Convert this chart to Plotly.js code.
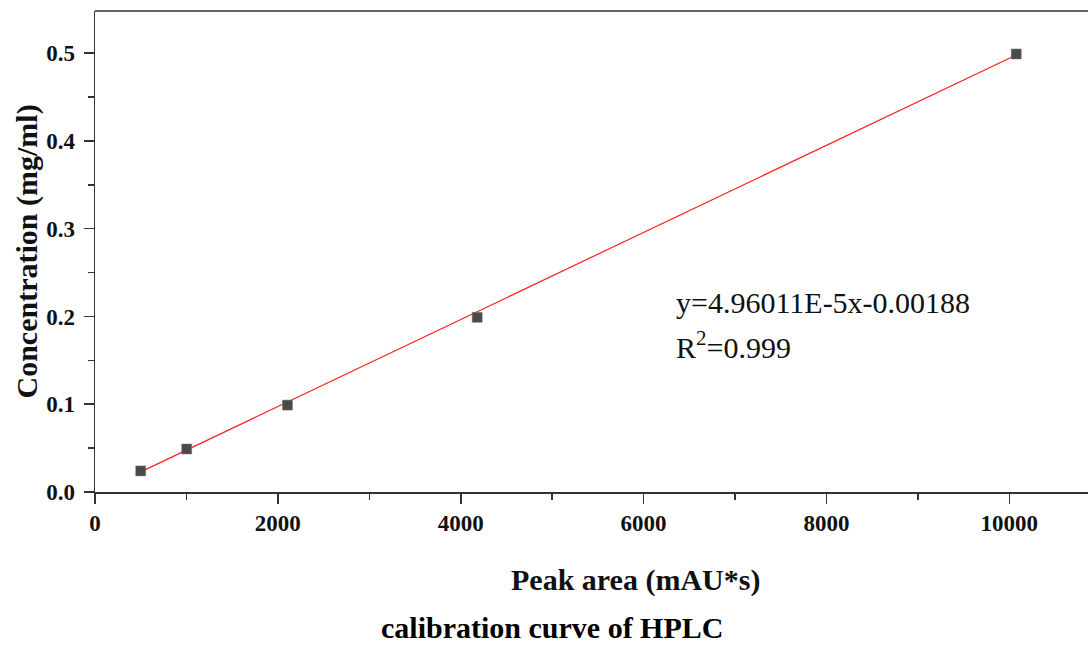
<!DOCTYPE html>
<html>
<head>
<meta charset="utf-8">
<script src="https://cdn.plot.ly/plotly-3.0.1.min.js"></script>
<style>html,body{margin:0;padding:0;background:#fff;}#chart{width:1088px;height:646px;}</style>
</head>
<body>
<div id="chart"></div>
<script>
const peakArea = [500, 1003, 2105, 4180, 10075];
const concentration = [0.024, 0.049, 0.099, 0.199, 0.499];
const fitX = [500, 10075];
const fitY = [0.0229, 0.4979];
const xTickVals = [0, 2000, 4000, 6000, 8000, 10000];
const yTickVals = [0.0, 0.1, 0.2, 0.3, 0.4, 0.5];
const yTickText = ['0.0', '0.1', '0.2', '0.3', '0.4', '0.5'];
const equationText = 'y=4.96011E-5x-0.00188';
const r2Text = 'R<sup>2</sup>=0.999';

const serif = 'Liberation Serif, Times New Roman, serif';
const axisColor = '#333333';

const traces = [
  {x: fitX, y: fitY, mode: 'lines', line: {color: '#ff2020', width: 1.2}, hoverinfo: 'skip'},
  {x: peakArea, y: concentration, mode: 'markers',
   marker: {symbol: 'square', size: 10, color: '#4a4a4a', line: {color: '#777', width: 0.5}}}
];

const axisCommon = {
  showgrid: false, zeroline: false, showline: true, linecolor: axisColor, linewidth: 1.5,
  ticks: 'outside', ticklen: 10, tickwidth: 1.5, tickcolor: axisColor,
  tickfont: {family: serif, size: 23, color: '#111', weight: 'bold'}
};

const layout = {
  width: 1088, height: 646,
  margin: {l: 95, r: 0, t: 11, b: 154},
  paper_bgcolor: '#fff', plot_bgcolor: '#fff',
  showlegend: false,
  xaxis: Object.assign({}, axisCommon, {
    range: [0, 10860], tickvals: xTickVals, ticktext: xTickVals.map(String),
    minor: {dtick: 1000, tick0: 0, ticks: 'outside', ticklen: 6, tickwidth: 1.5, tickcolor: axisColor}
  }),
  yaxis: Object.assign({}, axisCommon, {
    range: [0, 0.548], tickvals: yTickVals, ticktext: yTickText, ticklabelstandoff: 4,
    minor: {dtick: 0.05, tick0: 0, ticks: 'outside', ticklen: 6, tickwidth: 1.5, tickcolor: axisColor}
  }),
  shapes: [
    {type: 'line', xref: 'paper', yref: 'paper', x0: 0, x1: 1, y0: 1, y1: 1,
     line: {color: axisColor, width: 1.5}}
  ],
  annotations: [
    {text: 'Peak area (mAU*s)', xref: 'paper', yref: 'paper', x: 0.544, y: -0.183,
     xanchor: 'center', yanchor: 'middle', showarrow: false,
     font: {family: serif, size: 30, color: '#111', weight: 'bold'}},
    {text: 'Concentration (mg/ml)', xref: 'paper', yref: 'paper', x: -0.0685, y: 0.5,
     xanchor: 'center', yanchor: 'middle', showarrow: false, textangle: -90,
     font: {family: serif, size: 30, color: '#111', weight: 'bold'}},
    {text: 'calibration curve of HPLC', xref: 'paper', yref: 'paper', x: 0.46, y: -0.282,
     xanchor: 'center', yanchor: 'middle', showarrow: false,
     font: {family: serif, size: 30, color: '#000', weight: 'bold'}},
    {text: equationText, xref: 'paper', yref: 'paper', x: 0.583, y: 0.393,
     xanchor: 'left', yanchor: 'middle', showarrow: false,
     font: {family: serif, size: 30, color: '#111'}},
    {text: r2Text, xref: 'paper', yref: 'paper', x: 0.583, y: 0.306,
     xanchor: 'left', yanchor: 'middle', showarrow: false,
     font: {family: serif, size: 30, color: '#111'}}
  ]
};

Plotly.newPlot('chart', traces, layout, {staticPlot: true, displayModeBar: false});
</script>
</body>
</html>
